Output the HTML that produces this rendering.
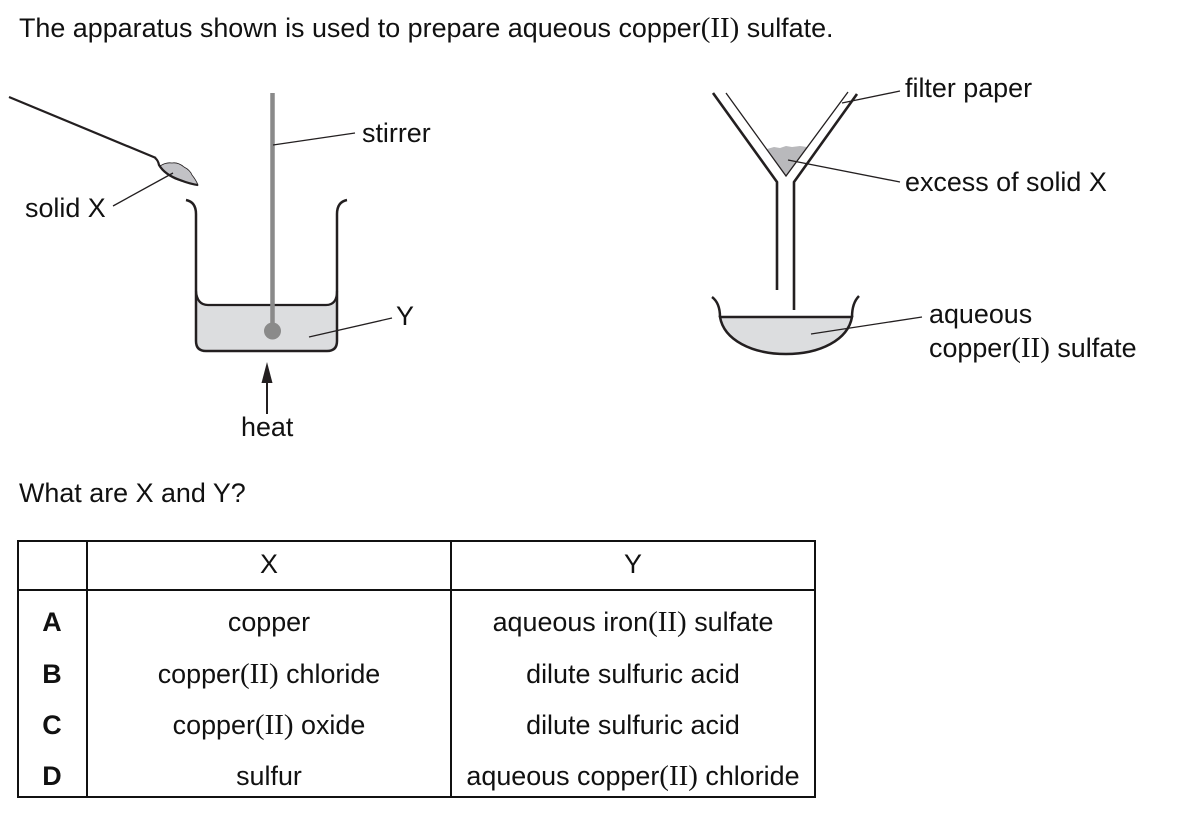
<!DOCTYPE html>
<html>
<head>
<meta charset="utf-8">
<style>
  html, body { margin: 0; padding: 0; background: #fff; }
  body { width: 1203px; height: 816px; overflow: hidden; }
  svg { display: block; }
  text { font-family: "Liberation Sans", Arial, sans-serif; font-size: 26.9px; fill: #111; }
  .r { font-family: "Liberation Serif", "Times New Roman", serif; font-size: 29px; }
  .b { font-weight: bold; }
</style>
</head>
<body>
<svg width="1203" height="816" viewBox="0 0 1203 816" xmlns="http://www.w3.org/2000/svg">
  <!-- Heading -->
  <text x="19" y="37">The apparatus shown is used to prepare aqueous copper<tspan class="r">(II)</tspan> sulfate.</text>

  <!-- ===== Left diagram: beaker ===== -->
  <!-- spatula -->
  <line x1="9" y1="97" x2="156" y2="158" stroke="#231f20" stroke-width="2.2"/>
  <path d="M160,166 Q166,162 172,163 Q178,162 184,167 Q190,170 192,175 Q196,180 198,185 Q185,183 175,179 Q163,173 160,166 Z" fill="#c2c2c6" stroke="#231f20" stroke-width="0.8"/>
  <path d="M155,158 Q158,160 159,165 Q165,175 180,180 Q190,184 198,185" fill="none" stroke="#231f20" stroke-width="2.2"/>

  <!-- liquid -->
  <path d="M196,293 Q196,305 208,305 L326,305 Q337,305 337,293 L337,341 Q337,351 327,351 L206,351 Q196,351 196,341 Z" fill="#dcdddf"/>
  <path d="M196,291 Q197,305 208,305 L326,305 Q337,305 337,291" fill="none" stroke="#231f20" stroke-width="2.2"/>
  <!-- beaker -->
  <path d="M186,200 Q196,202 196,214 L196,341 Q196,351 206,351 L327,351 Q337,351 337,341 L337,214 Q337,202 347,200" fill="none" stroke="#231f20" stroke-width="2.5"/>

  <!-- stirrer -->
  <line x1="272.5" y1="93" x2="272.5" y2="331" stroke="#8a8a8a" stroke-width="4.5"/>
  <circle cx="272.5" cy="331" r="8.5" fill="#8a8a8a"/>

  <!-- heat arrow -->
  <line x1="267" y1="380" x2="267" y2="414" stroke="#231f20" stroke-width="2"/>
  <polygon points="267,362 261.5,383 272.5,383" fill="#231f20"/>

  <!-- leaders -->
  <line x1="113" y1="206" x2="173" y2="173" stroke="#231f20" stroke-width="1.3"/>
  <line x1="273" y1="145" x2="355" y2="133" stroke="#231f20" stroke-width="1.3"/>
  <line x1="309" y1="337" x2="392" y2="318" stroke="#231f20" stroke-width="1.3"/>

  <text x="25" y="217">solid X</text>
  <text x="362" y="142">stirrer</text>
  <text x="396" y="325">Y</text>
  <text x="241" y="436">heat</text>

  <!-- ===== Right diagram: funnel ===== -->
  <path d="M767,149 L774,147 L780,148 L786,146 L792,147 L800,146 L807,147 L786,176 Z" fill="#b9b9bc"/>
  <path d="M726,93 L786,176 L848,92" fill="none" stroke="#231f20" stroke-width="1.3"/>
  <path d="M713,93 L777,182 L777,290" fill="none" stroke="#231f20" stroke-width="2.6"/>
  <path d="M857,94 L794,182 L794,310" fill="none" stroke="#231f20" stroke-width="2.6"/>

  <!-- evaporating dish -->
  <path d="M720,317 L852,317 C848,340 820,354 786,354 C752,354 724,340 720,317 Z" fill="#dcdddf" stroke="#231f20" stroke-width="2.5"/>
  <path d="M712,297 Q720,303 720,317 M852,317 Q852,303 859,296" fill="none" stroke="#231f20" stroke-width="2.5"/>

  <!-- leaders -->
  <line x1="842" y1="103" x2="900" y2="91" stroke="#231f20" stroke-width="1.3"/>
  <line x1="788" y1="160" x2="900" y2="182" stroke="#231f20" stroke-width="1.3"/>
  <line x1="811" y1="334" x2="922" y2="317" stroke="#231f20" stroke-width="1.3"/>

  <text x="905" y="97">filter paper</text>
  <text x="905" y="191">excess of solid X</text>
  <text x="929" y="323">aqueous</text>
  <text x="929" y="357">copper<tspan class="r">(II)</tspan> sulfate</text>

  <!-- Question -->
  <text x="19" y="502">What are X and Y?</text>

  <!-- ===== Table ===== -->
  <g stroke="#111" stroke-width="2" fill="none">
    <rect x="18" y="541" width="797" height="256"/>
    <line x1="18" y1="590" x2="815" y2="590"/>
    <line x1="87" y1="541" x2="87" y2="797"/>
    <line x1="451" y1="541" x2="451" y2="797"/>
  </g>

  <g text-anchor="middle">
    <text x="269" y="573">X</text>
    <text x="633" y="573">Y</text>

    <text class="b" x="52" y="631" font-size="22">A</text>
    <text class="b" x="52" y="683" font-size="22">B</text>
    <text class="b" x="52" y="734" font-size="22">C</text>
    <text class="b" x="52" y="785" font-size="22">D</text>

    <text x="269" y="631">copper</text>
    <text x="269" y="683">copper<tspan class="r">(II)</tspan> chloride</text>
    <text x="269" y="734">copper<tspan class="r">(II)</tspan> oxide</text>
    <text x="269" y="785">sulfur</text>

    <text x="633" y="631">aqueous iron<tspan class="r">(II)</tspan> sulfate</text>
    <text x="633" y="683">dilute sulfuric acid</text>
    <text x="633" y="734">dilute sulfuric acid</text>
    <text x="633" y="785">aqueous copper<tspan class="r">(II)</tspan> chloride</text>
  </g>
</svg>
</body>
</html>
